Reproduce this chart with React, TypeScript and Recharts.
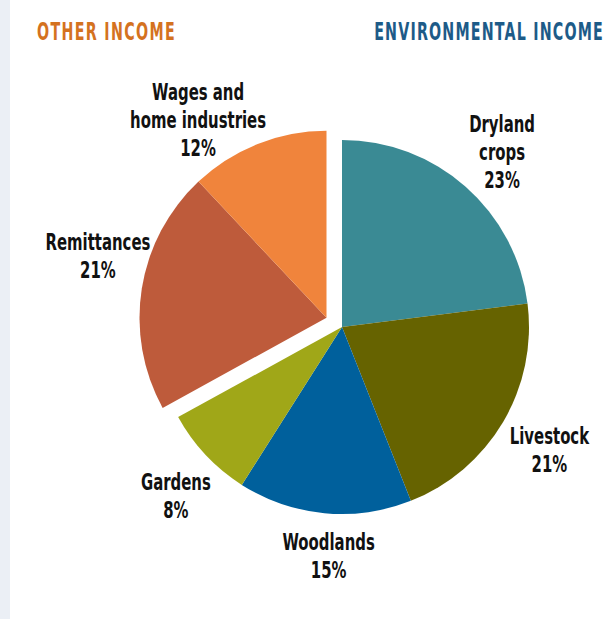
import { Cell, Pie, PieChart } from "recharts";

// environmental income, clockwise from 12 o'clock
const envNames = ["Dryland\ncrops", "Livestock", "Woodlands", "Gardens"];
const envValues = [23, 21, 15, 8];
const envColors = ["#3a8a94", "#666300", "#00609c", "#a0a718"];

// other income, continues clockwise back up to 12 o'clock
const otherNames = ["Remittances", "Wages and\nhome industries"];
const otherValues = [21, 12];
const otherColors = ["#be5b3b", "#f0843c"];

const groupTitles = ["OTHER INCOME", "ENVIRONMENTAL INCOME"];

const envData = envNames.map((name, i) => ({ name, value: envValues[i] }));
const otherData = otherNames.map((name, i) => ({ name, value: otherValues[i] }));

const envSum = envValues.reduce((a, b) => a + b, 0);
const otherSum = otherValues.reduce((a, b) => a + b, 0);
const total = envSum + otherSum;

const RAD = Math.PI / 180;
const W = 605;
const H = 619;
const CX = 342;
const CY = 327;
const R = 187;
const EXPLODE = 18;

const envSweep = (envSum / total) * 360;
const splitAngle = 90 - envSweep;
// push the "other" wedge out along its bisector
const otherMid = (splitAngle + -270) / 2;
const otherCx = CX + EXPLODE * Math.cos(otherMid * RAD);
const otherCy = CY - EXPLODE * Math.sin(otherMid * RAD);

const FONT = "'Liberation Sans Narrow', 'DejaVu Sans Condensed', 'Roboto', sans-serif";
const LINE = 28;
const CAP = 17;
const SQUEEZE = 0.72; // fake a bold condensed face
const TITLE_SQUEEZE = 0.66;

// hand tweaks so labels sit where the original put them
const labelShift: Record<string, [number, number]> = {
  "Dryland\ncrops": [3, 3],
  Livestock: [3, 2],
  Woodlands: [9, -8],
  Gardens: [7, 6],
  Remittances: [6, -25],
  "Wages and\nhome industries": [-41, 22],
};

function renderLabel(props: any) {
  const { cx, cy, midAngle, outerRadius } = props;
  const name: string = props.payload?.name ?? props.name;
  const value: number = props.payload?.value ?? props.value;
  const r = outerRadius * 1.27;
  const shift = labelShift[name] ?? [0, 0];
  const x = cx + r * Math.cos(-midAngle * RAD) + shift[0];
  const y = cy + r * Math.sin(-midAngle * RAD) + shift[1];
  const lines = [...name.split("\n"), `${Math.round((value / total) * 100)}%`];
  const first = y - (LINE * (lines.length - 1) - CAP) / 2;

  return (
    <g transform={`translate(${x} ${first}) scale(${SQUEEZE} 1)`}>
      <text
        textAnchor="middle"
        fontFamily={FONT}
        fontWeight="bold"
        fontSize={23}
        fill="#111"
      >
        {lines.map((line, i) => (
          <tspan key={i} x={0} y={i * LINE}>
            {line}
          </tspan>
        ))}
      </text>
    </g>
  );
}

export default function App() {
  return (
    <div style={{ position: "relative", width: W, height: H, background: "#fff" }}>
      <style>{"body{margin:0}"}</style>
      <div
        style={{
          position: "absolute",
          left: 0,
          top: 0,
          width: 10,
          height: H,
          background: "#ebeff5",
        }}
      />

      <PieChart width={W} height={H} margin={{ top: 0, right: 0, bottom: 0, left: 0 }}>
        <Pie
          data={envData}
          dataKey="value"
          nameKey="name"
          cx={CX}
          cy={CY}
          outerRadius={R}
          startAngle={90}
          endAngle={splitAngle}
          stroke="none"
          label={renderLabel}
          labelLine={false}
          isAnimationActive={false}
        >
          {envData.map((d, i) => (
            <Cell key={d.name} fill={envColors[i]} />
          ))}
        </Pie>
        <Pie
          data={otherData}
          dataKey="value"
          nameKey="name"
          cx={otherCx}
          cy={otherCy}
          outerRadius={R}
          startAngle={splitAngle}
          endAngle={-270}
          stroke="none"
          label={renderLabel}
          labelLine={false}
          isAnimationActive={false}
        >
          {otherData.map((d, i) => (
            <Cell key={d.name} fill={otherColors[i]} />
          ))}
        </Pie>
      </PieChart>

      <svg
        width={W}
        height={H}
        style={{ position: "absolute", left: 0, top: 0, pointerEvents: "none" }}
      >
        <g transform={`translate(37 40) scale(${TITLE_SQUEEZE} 1)`}>
          <text
            x={0}
            y={0}
            fontFamily={FONT}
            fontWeight="bold"
            fontSize={24}
            letterSpacing={2}
            fill="#d4721f"
          >
            {groupTitles[0]}
          </text>
        </g>
        <g transform={`translate(604 40) scale(${TITLE_SQUEEZE} 1)`}>
          <text
            x={0}
            y={0}
            textAnchor="end"
            fontFamily={FONT}
            fontWeight="bold"
            fontSize={24}
            letterSpacing={1.8}
            fill="#1d5b88"
          >
            {groupTitles[1]}
          </text>
        </g>
      </svg>
    </div>
  );
}
